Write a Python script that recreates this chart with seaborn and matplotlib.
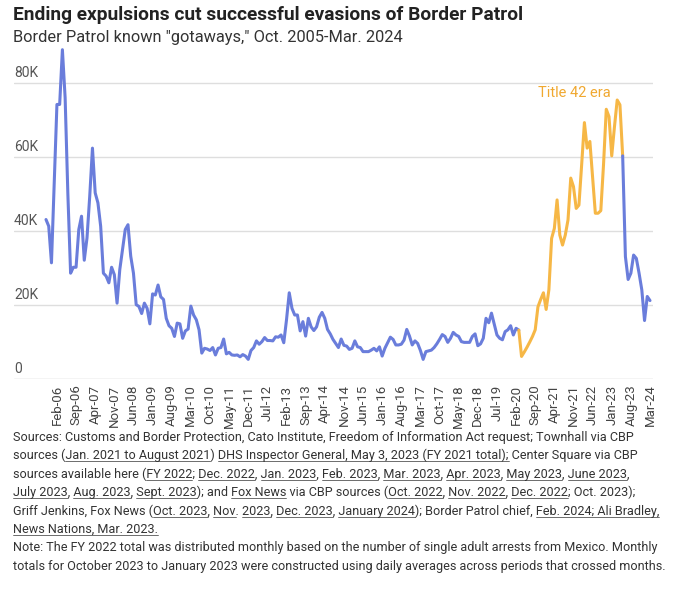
import numpy as np
import pandas as pd
import matplotlib
matplotlib.use("Agg")
import matplotlib.pyplot as plt
import seaborn as sns
from matplotlib import font_manager
from matplotlib.lines import Line2D

# Border Patrol known gotaways per month, thousands (Oct 2005 - Mar 2024)
gotaways = [
    43.1, 41.3, 31.4, 53.0, 74.2, 74.2, 89.0, 76.0, 50.0, 28.6,
    30.2, 30.2, 40.4, 44.0, 32.1, 38.1, 49.4, 62.4, 50.3, 47.6,
    41.3, 28.6, 27.8, 26.0, 30.2, 28.2, 20.5, 29.6, 35.0, 40.4,
    41.7, 33.2, 28.6, 20.1, 19.6, 17.7, 20.5, 19.1, 14.9, 23.0,
    22.7, 25.4, 22.2, 21.5, 16.4, 14.4, 13.7, 11.5, 15.1, 14.9,
    11.0, 13.0, 13.5, 19.7, 17.3, 16.0, 13.3, 7.0, 8.3, 8.1,
    7.7, 8.5, 6.5, 8.3, 8.5, 10.8, 6.8, 7.2, 6.5, 6.4,
    6.5, 6.0, 6.6, 6.2, 5.3, 7.7, 8.5, 10.3, 9.4, 10.1,
    11.2, 10.4, 10.4, 10.3, 11.4, 11.3, 11.9, 9.8, 16.0, 23.3,
    19.1, 17.3, 17.3, 13.0, 15.5, 11.6, 16.4, 14.1, 13.1, 14.1,
    16.7, 18.0, 16.4, 13.4, 12.2, 10.7, 9.6, 8.5, 10.8, 9.1,
    8.9, 8.0, 8.3, 10.3, 8.7, 8.5, 7.4, 7.4, 7.4, 7.8,
    8.3, 7.6, 8.7, 6.2, 8.3, 9.8, 11.3, 10.7, 9.2, 9.2,
    9.4, 10.5, 13.4, 11.6, 9.2, 10.3, 9.6, 7.7, 5.3, 7.4,
    7.6, 7.8, 8.5, 9.5, 10.7, 12.0, 11.5, 9.9, 11.0, 12.6,
    11.9, 11.5, 10.1, 9.9, 9.9, 9.9, 11.5, 12.2, 9.0, 9.5,
    11.0, 16.4, 15.2, 17.8, 14.9, 11.9, 11.0, 10.6, 12.8, 13.3,
    14.4, 11.9, 13.7, 13.2, 6.1, 7.3, 8.6, 10.0, 11.5, 13.3,
    19.5, 21.5, 23.3, 18.8, 24.1, 38.0, 40.7, 48.4, 38.9, 36.2,
    38.9, 43.0, 54.3, 52.0, 46.1, 47.0, 58.0, 69.3, 62.4, 64.2,
    54.5, 44.8, 44.8, 45.5, 58.0, 72.9, 70.9, 60.3, 68.2, 75.4,
    74.1, 60.3, 33.1, 26.9, 28.6, 33.5, 32.6, 28.6, 24.1, 15.8,
    22.3, 21.2,
]
months = pd.date_range("2005-10-01", "2024-03-01", freq="MS")
title42_first = pd.Timestamp("2020-03-01")
title42_last = pd.Timestamp("2023-05-01")

y_ticks = [0, 20, 40, 60, 80]
y_labels = ["0", "20K", "40K", "60K", "80K"]
tick_pos = list(range(4, len(months), 7))
tick_labels = [months[i].strftime("%b-%y") for i in tick_pos]

title = "Ending expulsions cut successful evasions of Border Patrol"
subtitle = 'Border Patrol known "gotaways," Oct. 2005-Mar. 2024'

# (text, underlined) runs for each source line
source_lines = [
    [("Sources: Customs and Border Protection, Cato Institute, Freedom of Information Act request; Townhall via CBP", False)],
    [("sources (", False), ("Jan. 2021 to August 2021", True), (") ", False),
     ("DHS Inspector General, May 3, 2023 (FY 2021 total); ", True), ("Center Square via CBP", False)],
    [("sources available here (", False), ("FY 2022", True), ("; ", False), ("Dec. 2022", True), (", ", False),
     ("Jan. 2023", True), (", ", False), ("Feb. 2023", True), (", ", False), ("Mar. 2023", True), (", ", False),
     ("Apr. 2023", True), (", ", False), ("May 2023", True), (", ", False), ("June 2023", True), (",", False)],
    [("July 2023", True), (", ", False), ("Aug. 2023", True), (", ", False), ("Sept. 2023", True),
     ("); and ", False), ("Fox News ", True), ("via CBP sources (", False), ("Oct. 2022", True), (", ", False),
     ("Nov. 2022", True), (", ", False), ("Dec. 2022", True), ("; Oct. 2023);", False)],
    [("Griff Jenkins, Fox News (", False), ("Oct. 2023", True), (", ", False), ("Nov", True), (". ", False),
     ("2023", True), (", ", False), ("Dec. 2023", True), (", ", False), ("January 2024", True),
     ("); Border Patrol chief, ", False), ("Feb. 2024; Ali Bradley,", True)],
    [("News Nations, Mar. 2023.", True)],
    [("Note: The FY 2022 total was distributed monthly based on the number of single adult arrests from Mexico. Monthly", False)],
    [("totals for October 2023 to January 2023 were constructed using daily averages across periods that crossed months.", False)],
]

BLUE = "#6a7ddb"
ORANGE = "#f6b746"

sns.set_theme(style="white")
installed = {f.name for f in font_manager.fontManager.ttflist}
narrow = "Liberation Sans Narrow" if "Liberation Sans Narrow" in installed else "Roboto"
plt.rcParams["font.family"] = ["Roboto", "DejaVu Sans"]

df = pd.DataFrame({"month": months, "value": gotaways})
df["pos"] = np.arange(len(df))
first = df.index[df.month == title42_first][0]
last = df.index[df.month == title42_last][0]

W, H = 694, 599
fig = plt.figure(figsize=(W / 100, H / 100), dpi=100)
px = (650 - 46) / (len(df) - 1)
ax = fig.add_axes([14 / W, 1 - 379 / H, (653 - 14) / W, 333 / H])
ax.set_xlim((14 - 46) / px, (653 - 46) / px)
ax.set_ylim(0, 90)

for v in y_ticks:
    ax.axhline(v, color="#c9c9c9" if v == 0 else "#dedede", lw=1, zorder=0)

sns.lineplot(data=df.loc[:first], x="pos", y="value", color=BLUE, lw=2.2, ax=ax)
sns.lineplot(data=df.loc[first:last], x="pos", y="value", color=ORANGE, lw=2.2, ax=ax)
sns.lineplot(data=df.loc[last:], x="pos", y="value", color=BLUE, lw=2.2, ax=ax)

for v, lab in zip(y_ticks, y_labels):
    ax.annotate(lab, (ax.get_xlim()[0], v), xytext=(0, 2), textcoords="offset points",
                ha="left", va="bottom", fontsize=10, color="#555555")

ax.text(193.5, 77.3, "Title 42 era", ha="center", va="center", fontsize=10.5, color="#f0a830")

ax.set_xticks(tick_pos, tick_labels, rotation=90)
ax.set_yticks([])
ax.tick_params(axis="x", length=0, pad=4, labelsize=9.5, labelcolor="#444444")
ax.set_xlabel("")
ax.set_ylabel("")
sns.despine(ax=ax, left=True, bottom=True)

fig.text(13 / W, 1 - 20 / H, title, family=[narrow, "DejaVu Sans"], weight="bold",
         fontsize=13.8, color="#222222", va="baseline")
fig.text(13 / W, 1 - 42 / H, subtitle, fontsize=11.8, color="#333333", va="baseline")

# source notes with underlined links
renderer = fig.canvas.get_renderer()
prop = font_manager.FontProperties(family=[narrow, "DejaVu Sans"], size=9.1)


def text_width(s):
    w_mark = renderer.get_text_width_height_descent("I", prop, ismath=False)[0]
    return renderer.get_text_width_height_descent(s + "I", prop, ismath=False)[0] - w_mark


for k, runs in enumerate(source_lines):
    base = 441 + 18.4 * k
    full = "".join(r[0] for r in runs)
    fig.text(13 / W, 1 - base / H, full, fontproperties=prop, color="#333333", va="baseline")
    done = ""
    for txt, under in runs:
        if under:
            x0 = 13 + text_width(done)
            x1 = 13 + text_width(done + txt.rstrip())
            fig.add_artist(Line2D([x0 / W, x1 / W], [1 - (base + 2) / H] * 2,
                                  transform=fig.transFigure, color="#555555", lw=0.6))
        done += txt

fig.savefig("out.png", dpi=100)
